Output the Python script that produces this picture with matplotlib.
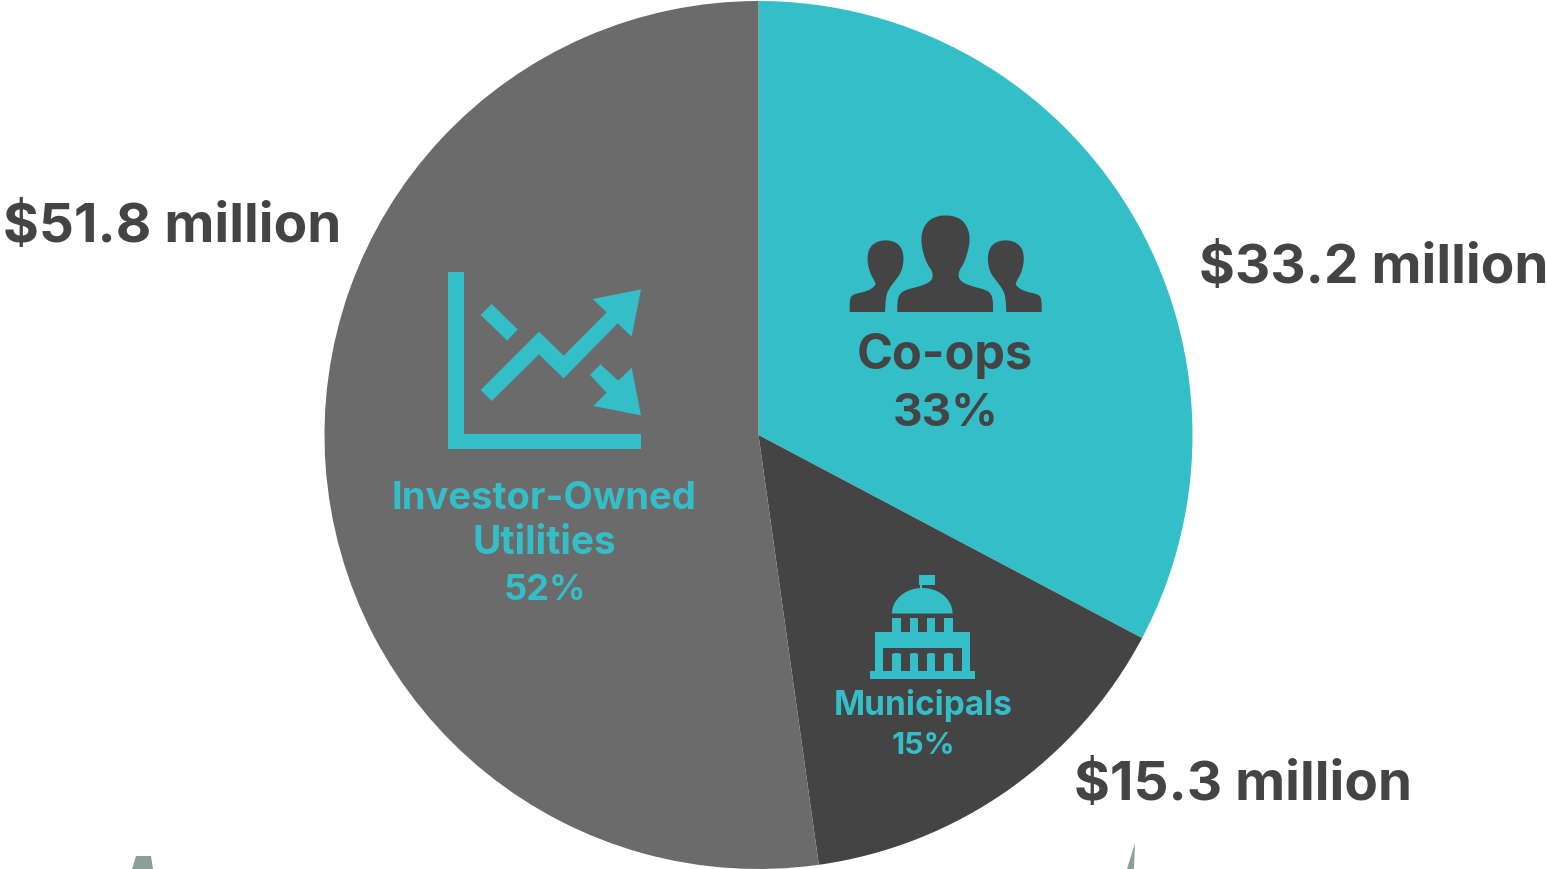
import numpy as np
import matplotlib
matplotlib.use("Agg")
import matplotlib.pyplot as plt
from matplotlib.patches import Polygon, Rectangle, Ellipse

plt.rcParams["font.family"] = ["Inter", "DejaVu Sans"]

# data
categories = ["Co-ops", "Municipals", "Investor-Owned\nUtilities"]
shares = [33, 15, 52]
slice_sizes = [32.75, 15.03, 52.22]  # as drawn in the picture, not quite the printed %
amounts = ["$33.2 million", "$15.3 million", "$51.8 million"]

TEAL = "#33BEC8"
DARK = "#444444"
GREY = "#6B6B6B"
slice_colors = [TEAL, DARK, GREY]

W, H = 1547, 869
CX, CY, R = 758.5, 435, 434

fig = plt.figure(figsize=(W / 100, H / 100), dpi=100, facecolor="white")

ax_pie = fig.add_axes([(CX - R) / W, (H - CY - R) / H, 2 * R / W, 2 * R / H])
ax_pie.pie(slice_sizes, colors=slice_colors, startangle=90, counterclock=False, radius=1,
           wedgeprops={"linewidth": 0})
ax_pie.set_xlim(-1, 1)
ax_pie.set_ylim(-1, 1)

# overlay in pixel coords, y pointing down
ax = fig.add_axes([0, 0, 1, 1])
ax.set_xlim(0, W)
ax.set_ylim(H, 0)
ax.axis("off")
ax.patch.set_alpha(0)


def zoomed(pts, ox, oy):
    return [(ox + x / 3, oy + y / 3) for x, y in pts]


def poly(pts, color, ox=0, oy=0):
    ax.add_patch(Polygon(zoomed(pts, ox, oy) if ox else pts, closed=True, fc=color, ec="none"))


def rect(x0, y0, x1, y1, color):
    ax.add_patch(Rectangle((x0, y0), x1 - x0, y1 - y0, fc=color, ec="none"))


def smooth(pts, n=2):
    # corner cutting, keeps the flat bottom edge of the heads
    pts = list(pts)
    for _ in range(n):
        new = [pts[0]]
        for a, b in zip(pts[:-1], pts[1:]):
            new.append((0.75 * a[0] + 0.25 * b[0], 0.75 * a[1] + 0.25 * b[1]))
            new.append((0.25 * a[0] + 0.75 * b[0], 0.25 * a[1] + 0.75 * b[1]))
        new.append(pts[-1])
        pts = new
    return pts


# people icon
center_person = [(172, 336), (172, 303), (178, 283), (195, 270), (250, 256), (278, 240), (278, 215),
                 (260, 190), (247, 150), (243, 115), (250, 82), (270, 58), (295, 48), (316, 46),
                 (340, 48), (367, 60), (384, 85), (390, 115), (385, 150), (372, 190), (355, 215),
                 (357, 240), (385, 256), (440, 270), (454, 283), (459, 303), (459, 336)]
side_person = [(29, 336), (29, 298), (38, 283), (85, 273), (108, 255), (105, 245), (88, 215),
               (81, 175), (88, 143), (110, 125), (136, 120), (165, 125), (185, 143), (192, 175),
               (185, 215), (167, 240), (150, 262), (138, 285), (135, 336)]
poly(smooth(center_person), DARK, 840, 200)
poly(smooth(side_person), DARK, 840, 200)
poly(smooth([(634 - x, y) for x, y in side_person]), DARK, 840, 200)

# chart icon
rect(448, 272, 464, 449, TEAL)
rect(448, 433.5, 641, 449, TEAL)
poly([(152, 390), (327, 215), (401, 287), (530, 157), (488, 117), (633, 88), (605, 230), (563, 190),
      (401, 355), (327, 283), (185, 423)], TEAL, 430, 260)
poly([(185, 132), (263, 208), (232, 242), (152, 165)], TEAL, 430, 260)
poly([(511, 313), (565, 362), (605, 323), (633, 466), (490, 438), (530, 398), (480, 345)], TEAL, 430, 260)

# capitol icon
ox, oy = 860, 565
rect(ox + 60, oy + 10, ox + 62, oy + 24, TEAL)
rect(ox + 59, oy + 10, ox + 75, oy + 19.5, TEAL)
t = np.linspace(0, np.pi, 40)
ax.fill(ox + 62.3 + 30.3 * np.cos(t), oy + 48.5 - 25.5 * np.sin(t), color=TEAL, lw=0)
for x in [97, 149, 201, 253]:
    rect(ox + x / 3, oy + 160 / 3, ox + (x + 25) / 3, oy + 200 / 3, TEAL)
rect(ox + 44 / 3, oy + 200 / 3, ox + 330 / 3, oy + 317 / 3, TEAL)
rect(ox + 68 / 3, oy + 248 / 3, ox + 306 / 3, oy + 317 / 3, DARK)
for x in [97, 149, 201, 253]:
    rect(ox + x / 3, oy + 268 / 3, ox + (x + 25) / 3, oy + 318 / 3, TEAL)
    ax.add_patch(Ellipse((ox + (x + 12.5) / 3, oy + 268 / 3), 25 / 3, 8 / 3, fc=TEAL, ec="none"))
rect(ox + 31 / 3, oy + 317 / 3, ox + 345 / 3, oy + 343 / 3, TEAL)

# cut-off bits at the bottom edge
poly([(136, 856), (151, 856), (153, 869), (132, 869)], "#8B9E98")
poly([(1135, 843), (1134, 869), (1127, 869)], "#8B9E98")

# amounts
amount_pos = [(1373.5, 269), (1243.5, 786), (172, 228)]
for (x, y), label in zip(amount_pos, amounts):
    ax.text(x, y, label, ha="center", va="center", fontsize=39.5, fontweight="bold", color=DARK)

# slice labels
ax.text(945, 356, categories[0], ha="center", va="center", fontsize=35, fontweight="bold", color=DARK)
ax.text(946, 414, f"{shares[0]}%", ha="center", va="center", fontsize=33, fontweight="bold", color=DARK)

ax.text(923, 706, categories[1], ha="center", va="center", fontsize=24, fontweight="bold", color=TEAL)
ax.text(923, 746, f"{shares[1]}%", ha="center", va="center", fontsize=22, fontweight="bold", color=TEAL)

line1, line2 = categories[2].split("\n")
ax.text(544, 499, line1, ha="center", va="center", fontsize=27.5, fontweight="bold", color=TEAL)
ax.text(544, 544, line2, ha="center", va="center", fontsize=28, fontweight="bold", color=TEAL)
ax.text(545, 590, f"{shares[2]}%", ha="center", va="center", fontsize=26, fontweight="bold", color=TEAL)

fig.savefig("out.png", dpi=100)
